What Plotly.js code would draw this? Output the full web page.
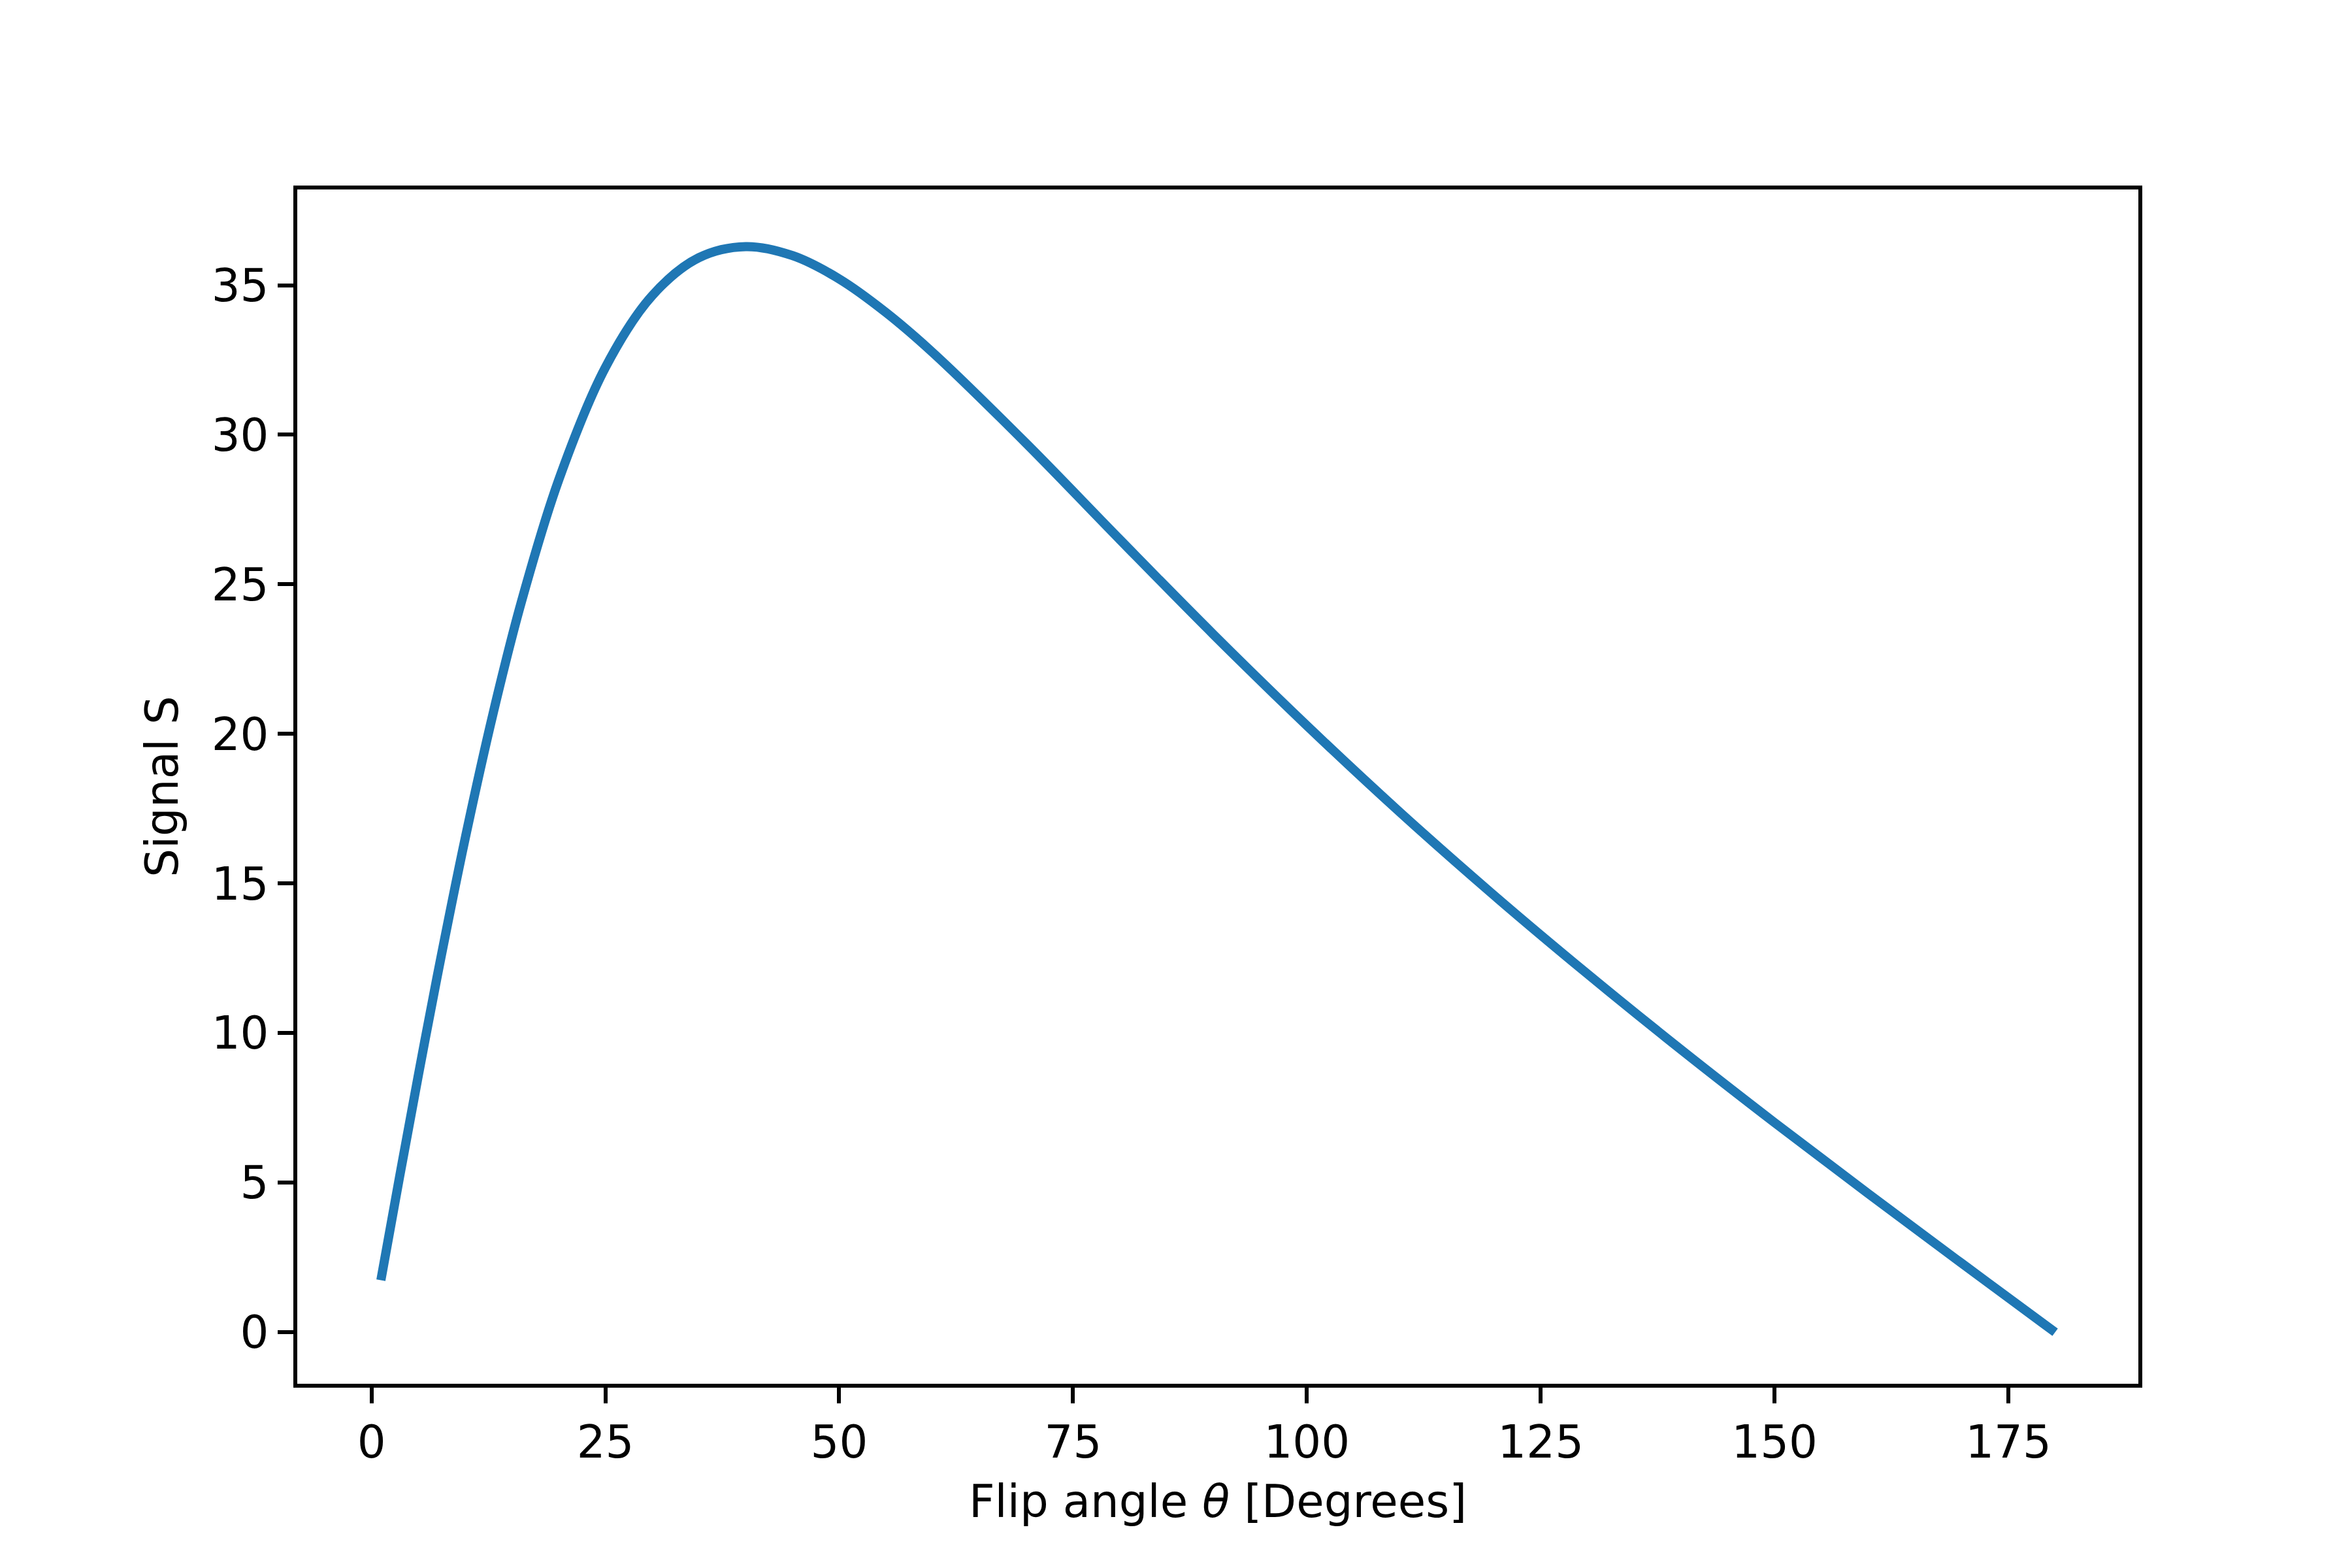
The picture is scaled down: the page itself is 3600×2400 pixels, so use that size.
<!DOCTYPE html>
<html>
<head>
<script src="https://cdn.plot.ly/plotly-3.0.1.min.js"></script>
<style>body{margin:0;background:#fff}</style>
</head>
<body>
<div id="graph"></div>
<script>
var flipAngle = [1, 3, 5, 7, 10, 13, 16, 20, 25, 30, 35, 40, 45, 50, 55, 60, 70, 80, 90, 100, 110, 120, 130, 140, 150, 160, 170, 180];
var signal = [1.74, 5.20, 8.58, 11.86, 16.49, 20.69, 24.39, 28.48, 32.25, 34.65, 35.92, 36.29, 35.99, 35.21, 34.09, 32.75, 29.71, 26.50, 23.33, 20.28, 17.37, 14.61, 11.98, 9.45, 7.01, 4.64, 2.31, 0];
var xTicks = [0, 25, 50, 75, 100, 125, 150, 175];
var yTicks = [0, 5, 10, 15, 20, 25, 30, 35];

var fontColor = "black";
var lineColor = "#1f77b4";

var trace = {
  x: flipAngle,
  y: signal,
  mode: 'lines',
  line: {color: lineColor, width: 14, shape: 'spline', smoothing: 1},
  type: 'scatter'
};

var axisBase = {
  showgrid: false,
  zeroline: false,
  showline: true,
  mirror: true,
  linecolor: 'black',
  linewidth: 5.5,
  ticks: 'outside',
  ticklen: 24,
  tickwidth: 5.5,
  tickcolor: 'black',
  tickfont: {family: 'DejaVu Sans', size: 69, color: fontColor}
};

var layout = {
  width: 3600,
  height: 2400,
  margin: {l: 455, r: 327, t: 290, b: 282},
  showlegend: false,
  paper_bgcolor: 'white',
  plot_bgcolor: 'white',
  xaxis: Object.assign({}, axisBase, {
    range: [-7.94, 188.9],
    tickvals: xTicks,
    ticktext: xTicks.map(String),
    title: {text: 'Flip angle <i>θ</i> [Degrees]', font: {family: 'DejaVu Sans', size: 69, color: fontColor}, standoff: 30}
  }),
  yaxis: Object.assign({}, axisBase, {
    range: [-1.72, 38.2],
    tickvals: yTicks,
    ticktext: yTicks.map(String),
    title: {text: 'Signal S', font: {family: 'DejaVu Sans', size: 69, color: fontColor}, standoff: 30}
  })
};

Plotly.newPlot(document.querySelector('#graph'), [trace], layout, {displayModeBar: false});
</script>
</body>
</html>
